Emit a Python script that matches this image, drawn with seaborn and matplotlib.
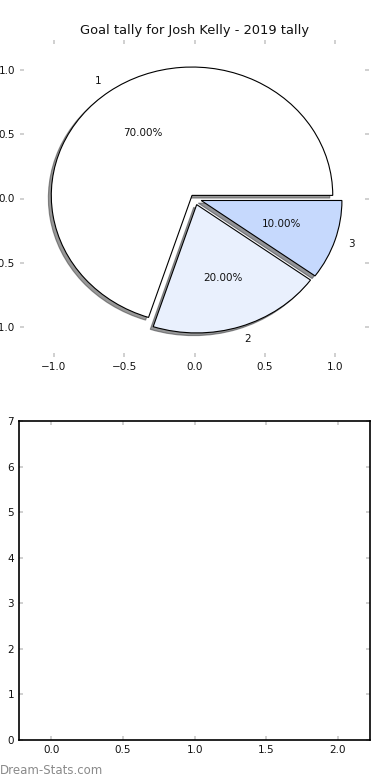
import matplotlib
matplotlib.use("Agg")
import matplotlib.pyplot as plt
import seaborn as sns

# ---- data ----
title = "Goal tally for Josh Kelly - 2019 tally"
labels = ["1", "2", "3"]
goals = [7, 2, 1]
colors = ["#ffffff", "#e9f0fd", "#c6d9fd"]
explode = [0.03, 0.05, 0.05]
pie_ticks = [-1.0, -0.5, 0.0, 0.5, 1.0]
bottom_xticks = [0.0, 0.5, 1.0, 1.5, 2.0]
bottom_yticks = [0, 1, 2, 3, 4, 5, 6, 7]
watermark = "Dream-Stats.com"

sns.set_theme(style="white")
plt.rcParams['font.family'] = ['DejaVu Sans']
plt.rcParams['axes.unicode_minus'] = True

fig = plt.figure(figsize=(3.9, 7.8), dpi=100)
fig.patch.set_facecolor("white")

# top: pie chart
ax1 = fig.add_axes([20/390, 1 - 357/780, 349/390, 317/780])
wedges, texts, autotexts = ax1.pie(
    goals, labels=labels, colors=colors, explode=explode,
    autopct='%.2f%%', shadow={'ox': -0.015, 'oy': -0.015, 'shade': 0.8},
    startangle=0, frame=True,
    wedgeprops=dict(edgecolor='black', linewidth=0.8),
    textprops=dict(fontsize=7.5, color='#111111'))
ax1.set_aspect('auto')
ax1.set_xlim(-1.24, 1.24)
ax1.set_ylim(-1.235, 1.235)
ax1.set_xticks(pie_ticks)
ax1.set_yticks(pie_ticks)
for s in ax1.spines.values():
    s.set_visible(False)
ax1.tick_params(direction='in', length=3, width=1.2, color='#c8c8c8',
                top=True, right=True, bottom=True, left=True,
                labelsize=7.5, pad=3.6, labelcolor='#111111')
ax1.set_title(title, fontsize=9.4, pad=4, color='#111111')

# bottom: empty axes
ax2 = fig.add_axes([19/390, 1 - 740/780, 351/390, 319/780])
ax2.set_xlim(-0.227, 2.226)
ax2.set_ylim(0, 7)
ax2.set_xticks(bottom_xticks)
ax2.set_yticks(bottom_yticks)
ax2.set_xticklabels([f"{v:.1f}" for v in bottom_xticks])
ax2.set_yticklabels([str(v) for v in bottom_yticks])
for s in ax2.spines.values():
    s.set_visible(True)
    s.set_color('black')
    s.set_linewidth(1.2)
ax2.tick_params(direction='in', length=3, width=1.2, color='#c8c8c8',
                top=True, right=True, bottom=True, left=True,
                labelsize=7.5, pad=3.6, labelcolor='#111111')

fig.text(0.0, 1 - 770/780, watermark, fontsize=8.5, fontweight='normal',
         color='#8a8a8a', ha='left', va='center')

fig.savefig("out.png", dpi=100, facecolor="white")
